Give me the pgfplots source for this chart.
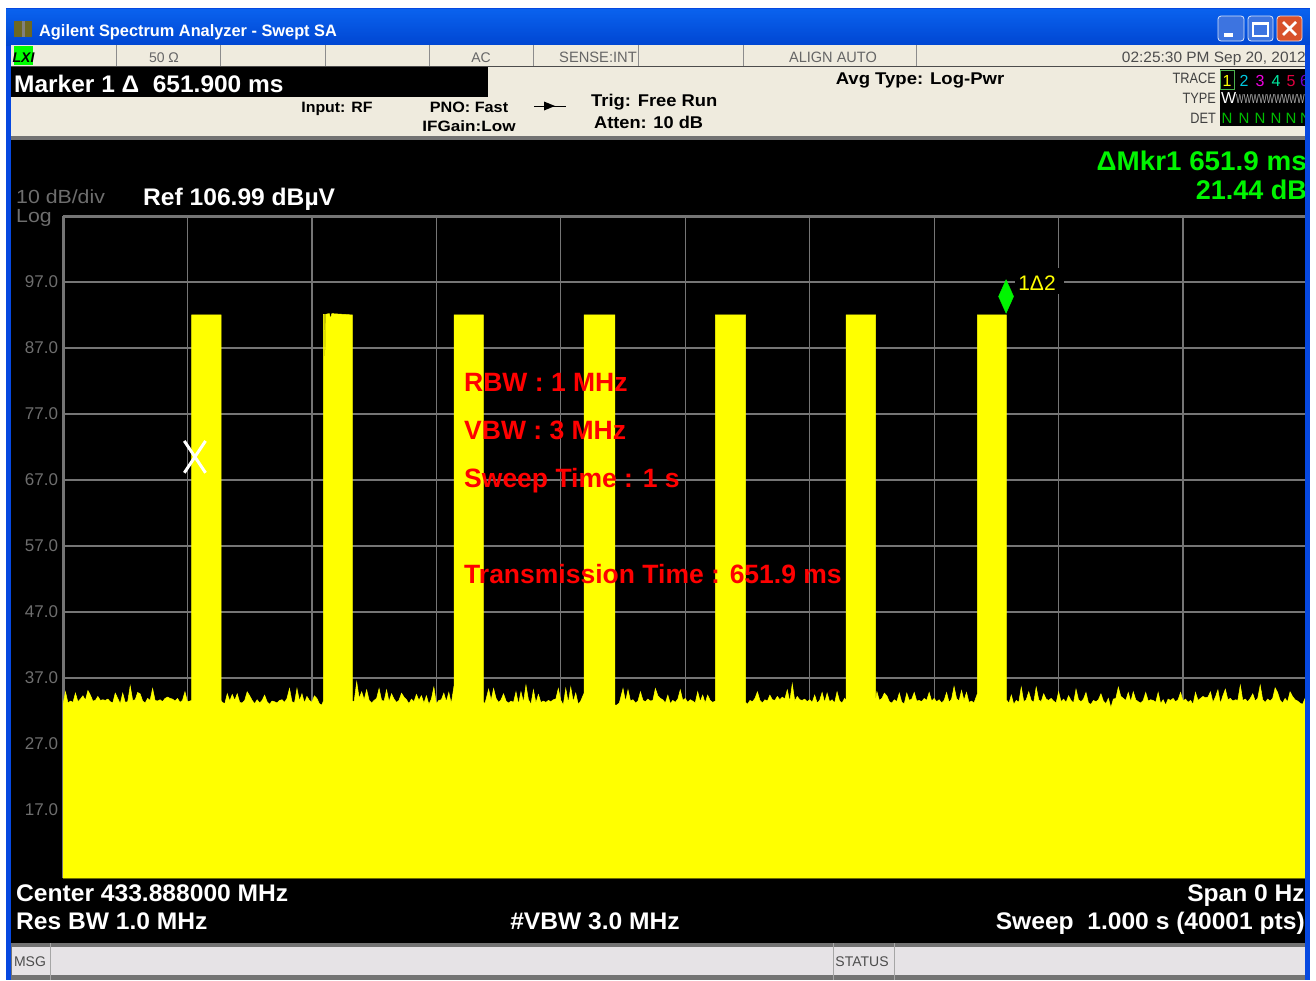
\documentclass[border=0pt]{standalone}
\usepackage{fontspec}
\usepackage{graphicx}
\setmainfont{Liberation Sans}
\usepackage{pgfplots}
\pgfplotsset{compat=1.18}
\definecolor{xpblue}{HTML}{0648E0}
\definecolor{xpblueT}{HTML}{0A62EE}
\definecolor{xpblueB}{HTML}{0046D2}
\definecolor{cream}{HTML}{EFEBDE}
\definecolor{msgbar}{HTML}{E6E3E6}
\definecolor{tickgray}{HTML}{6E6E6E}
\definecolor{gridgray}{HTML}{757575}
\definecolor{mk}{HTML}{00F500}
\definecolor{yel}{RGB}{255,255,0}
\definecolor{rd}{RGB}{255,0,0}
\definecolor{cy}{HTML}{00C8E0}
\definecolor{mg}{HTML}{F000E0}
\definecolor{gt}{HTML}{00E8A0}
\definecolor{cr}{HTML}{E00040}
\definecolor{vi}{HTML}{7000D0}
\definecolor{btn}{HTML}{3D74E0}
\definecolor{cls}{HTML}{D8512B}
\newcommand{\Tx}[6]{\node[anchor=#1,inner sep=0pt,text=#5] at (#2,#3) {\fontsize{#4}{#4}\selectfont #6};}
\begin{document}
\begin{tikzpicture}[x=1pt,y=-1pt]
\useasboundingbox (0,0) rectangle (1316,980);
% page
\fill[white] (0,0) rectangle (1316,980);
% window
\fill[xpblue] (6,8) rectangle (1310,980);
\shade[top color=xpblueT,bottom color=xpblueB] (6,9) rectangle (1310,45);
\fill[black] (11,140) rectangle (1305,943);
\fill[cream] (11,45) rectangle (1305,140);
\fill[black!55] (11,136) rectangle (1305,140);
\fill[black!70] (11,65.5) rectangle (1305,66.5);
% plot
\begin{axis}[
  at={(63pt,-878pt)}, anchor=south west,
  scale only axis, width=1244.5pt, height=662pt,
  xmin=0, xmax=1000, ymin=6.69, ymax=106.99,
  axis x line*=top, axis y line*=left,
  axis line style={draw=gridgray,line width=3pt,-},
  xtick={0,100,...,1000}, ytick={17,27,...,97},
  xticklabel=\empty,
  grid=major, grid style={draw=gridgray,line width=1.2pt},
  major tick style={draw=none},
  yticklabel style={font=\fontsize{17}{17}\selectfont,text=tickgray,xshift=-1.5pt},
  /pgf/number format/.cd, fixed, fixed zerofill, precision=1, assume math mode=true,
]
\addplot[fill=yel,draw=yel,line width=0.5pt] coordinates {
(-1,33.0)(0,33.0)(2,34.9)(4,33.2)(6,33.5)(8,33.3)(10,34.7)(12,33.4)(14,33.8)(16,34.3)(18,33.6)(20,35.1)(22,34.4)(24,33.5)(26,33.6)(28,34.2)(30,33.6)(32,33.7)(34,33.6)(36,33.8)(38,33.4)(40,33.2)(42,34.7)(44,33.9)(46,33.1)(48,34.7)(50,33.3)(52,33.4)(54,35.8)(56,33.6)(58,33.7)(60,34.8)(62,34.6)(64,33.5)(66,33.2)(68,33.9)(70,33.6)(72,35.4)(74,33.6)(76,33.5)(78,33.7)(80,33.4)(82,33.9)(84,34.1)(86,33.9)(88,33.8)(90,33.5)(92,33.9)(94,33.3)(96,33.6)(98,34.9)(100,33.4)(102,33.5)
(103.4,33.6)(103.4,92)(127,92)(127,33.6)
(128,33.3)(130,33.1)(132,34.6)(134,33.5)(136,34.5)(138,33.6)(140,34.6)(142,33.3)(144,33.2)(146,33.6)(148,34.9)(150,34.3)(152,33.6)(154,33.1)(156,33.7)(158,33.2)(160,33.6)(162,34.4)(164,33.4)(166,33.0)(168,33.5)(170,33.4)(172,33.2)(174,33.6)(176,33.7)(178,33.3)(180,33.9)(182,35.4)(184,33.4)(186,33.2)(188,35.4)(190,33.5)(192,34.6)(194,33.2)(196,34.2)(198,33.6)(200,33.3)(202,34.3)(204,33.9)(206,33.1)(208,32.9)
(209.2,33.5)(209.2,92.1)(210,92.1)(210.5,82.3)(211,92.1)(214,92.2)(215,91.4)(216,92.2)(232.5,92)(232.5,33.4)
(234,33.5)(236,36.4)(238,33.9)(240,34.9)(242,33.7)(244,35.2)(246,33.6)(248,33.2)(250,33.6)(252,33.9)(254,35.4)(256,33.6)(258,33.5)(260,35.2)(262,33.4)(264,34.6)(266,33.8)(268,33.3)(270,33.6)(272,34.7)(274,34.1)(276,33.7)(278,33.1)(280,33.8)(282,33.4)(284,34.5)(286,33.6)(288,34.3)(290,33.2)(292,34.3)(294,33.0)(296,33.8)(298,35.6)(300,33.1)(302,33.6)(304,33.7)(306,34.7)(308,33.4)(310,34.8)(312,33.1)
(314.2,35.8)(314.2,92)(337.7,92)(337.7,33.4)
(339,33.1)(340,33.8)(342,35.3)(344,33.6)(346,35.4)(348,33.9)(350,33.3)(352,33.7)(354,34.6)(356,33.5)(358,33.2)(360,33.5)(362,33.3)(364,34.9)(366,33.0)(368,34.9)(370,33.3)(372,35.9)(374,33.7)(376,33.0)(378,35.2)(380,33.2)(382,34.5)(384,33.3)(386,33.5)(388,33.3)(390,33.6)(392,33.4)(394,33.7)(396,33.8)(398,35.4)(400,33.6)(402,32.9)(404,35.4)(406,33.2)(408,35.6)(410,33.4)(412,34.7)(414,33.0)(416,33.5)
(418.7,34.7)(418.7,92)(443.5,92)(443.5,32.9)
(445,32.9)(447,33.2)(450,35.4)(452,33.4)(454,35.2)(456,33.5)(458,33.7)(460,33.2)(462,33.5)(464,34.9)(466,33.6)(468,33.4)(470,33.8)(472,33.5)(474,33.6)(476,35.4)(478,34.3)(480,33.9)(482,33.7)(484,33.2)(486,34.4)(488,33.1)(490,33.6)(492,33.3)(494,33.8)(496,35.2)(498,33.6)(500,33.9)(502,33.3)(504,33.7)(506,33.5)(508,33.2)(510,34.9)(512,33.4)(514,34.4)(516,33.2)(518,34.4)(520,33.6)(522,33.3)
(524.2,33.5)(524.2,92)(548.6,92)(548.6,33.3)
(550,33.0)(552,33.6)(554,33.4)(556,33.9)(558,34.9)(560,33.6)(562,33.2)(564,33.7)(566,33.5)(568,34.4)(570,33.7)(572,33.6)(574,34.2)(576,33.7)(578,34.1)(580,33.8)(582,35.2)(584,33.4)(586,36.1)(588,33.5)(590,34.2)(592,33.7)(594,33.6)(596,33.8)(598,33.4)(600,33.7)(602,33.3)(604,34.4)(606,33.2)(608,33.6)(610,34.8)(612,33.3)(614,34.7)(616,33.4)(618,33.7)(620,33.2)(622,34.9)(624,33.5)(626,33.2)(628,33.9)
(629.2,33.6)(629.2,92)(653,92)(653,33.6)
(654,34.9)(656,33.6)(658,33.9)(660,34.7)(662,34.3)(664,33.4)(666,33.2)(668,33.7)(670,33.4)(672,34.7)(674,33.3)(676,33.1)(678,34.7)(680,33.6)(682,33.8)(684,34.8)(686,33.5)(688,33.6)(690,33.4)(692,33.9)(694,33.6)(696,34.8)(698,33.5)(700,33.9)(702,33.4)(704,33.7)(706,33.2)(708,33.6)(710,34.8)(712,33.3)(714,33.8)(716,35.7)(718,33.9)(720,33.5)(722,35.1)(724,33.6)(726,34.8)(728,33.3)(730,33.5)(732,33.2)
(734.7,34.6)(734.7,92)(758,92)(758,33.6)
(759,33.5)(760,33.1)(762,34.4)(764,33.0)(766,33.6)(768,33.3)(770,35.6)(772,33.4)(774,33.7)(776,34.9)(778,33.6)(780,33.3)(782,35.6)(784,33.7)(786,33.4)(788,34.6)(790,33.8)(792,33.6)(794,33.9)(796,33.5)(798,33.2)(800,34.9)(802,33.4)(804,33.8)(806,33.3)(808,34.3)(810,33.6)(812,33.2)(814,35.3)(816,33.7)(818,33.4)(820,33.8)(822,34.8)(824,33.2)(826,33.0)(828,33.6)(830,33.4)(832,33.7)(834,34.6)(836,33.5)(838,33.1)(840,33.9)(842,32.5)(844,33.8)(846,33.9)(848,35.6)(850,34.2)(852,33.9)(854,33.6)(856,34.8)(858,33.4)(860,34.9)(862,33.7)(864,33.4)(866,33.2)(868,33.6)(870,34.8)(872,33.5)(874,33.7)(876,33.6)(878,33.3)(880,34.8)(882,33.1)(884,33.7)(886,32.9)(888,33.8)(890,33.6)(892,33.9)(894,33.4)(896,33.7)(898,34.8)(900,33.5)(902,33.8)(904,33.3)(906,33.6)(908,33.0)(910,34.8)(912,33.6)(914,33.9)(916,34.2)(918,34.0)(920,34.1)(922,34.9)(924,33.3)(926,34.1)(928,35.2)(930,33.1)(932,34.3)(934,35.3)(936,33.7)(938,33.9)(940,33.5)(942,33.7)(944,33.6)(946,35.9)(948,33.6)(950,33.8)(952,33.4)(954,33.9)(956,34.6)(958,33.5)(960,33.9)(962,35.9)(964,33.7)(966,33.3)(968,33.8)(970,33.5)(972,33.9)(974,35.5)(976,34.8)(978,33.6)(980,33.2)(982,33.9)(984,33.4)(986,34.9)(988,34.2)(990,33.7)(992,33.5)(994,33.2)(996,33.0)(998,33.9)(1000,33.5)(1001,33.5)
} \closedcycle;
% marker 1 reference point and delta point
\addplot[only marks,mark=x,mark size=15pt,mark options={draw=white,line width=3pt,yscale=1.5}] coordinates {(106,70.5)};
\addplot[only marks,mark=diamond*,mark size=8pt,mark options={draw=mk,fill=mk,xscale=1.25,yscale=2.1}] coordinates {(757.8,94.8)};
\end{axis}
% label of marker
\fill[black] (1015,268) rectangle (1064,294);
\Tx{base}{1037}{290}{21}{yel}{1Δ2}
% red notes
\Tx{base west}{464}{391}{26.5}{rd}{\bfseries RBW : 1 MHz}
\Tx{base west}{464}{439}{26.5}{rd}{\bfseries VBW : 3 MHz}
\Tx{base west}{464}{487}{26.5}{rd}{\bfseries Sweep Time : 1 s}
\Tx{base west}{464}{583}{26.5}{rd}{\bfseries Transmission Time : 651.9 ms}
% title bar
\fill[black!30!olive] (14,21) rectangle (32,37);
\fill[black!50] (22,21) rectangle (25,37);
\Tx{base west}{39}{36}{16.5}{white}{\bfseries\scalebox{.99}[1]{Agilent Spectrum Analyzer - Swept SA}}
\fill[btn,rounded corners=3pt,draw=white!80!btn,line width=.8pt] (1218,16) rectangle (1244,41);
\fill[white] (1224,33) rectangle (1233,37);
\fill[btn,rounded corners=3pt,draw=white!80!btn,line width=.8pt] (1248,16) rectangle (1273,41);
\draw[white,line width=1.2pt] (1253,23) rectangle (1268,36);\fill[white] (1253,22) rectangle (1268,25);
\fill[cls,rounded corners=3pt,draw=white!80!cls,line width=.8pt] (1277,16) rectangle (1302,41);
\draw[white,line width=2.6pt] (1283,22)--(1296,35) (1296,22)--(1283,35);
% status row
\fill[green] (14,46) rectangle (33,65);
\Tx{base}{23.5}{62}{14}{black}{\bfseries\itshape LXI}
\foreach \s in {116,220.5,325,429,533,638,743,916} \draw[black!45,line width=.9pt] (\s,45)--(\s,66);
\Tx{base}{164}{62}{14}{black!60}{50 Ω}
\Tx{base}{481}{62}{14}{black!60}{AC}
\Tx{base}{598}{62}{15}{black!60}{\scalebox{.98}[1]{SENSE:INT}}
\Tx{base}{833}{62}{15}{black!60}{\scalebox{.97}[1]{ALIGN AUTO}}
\Tx{base east}{1306}{62}{15}{black!70}{\scalebox{1.03}[1]{02:25:30 PM Sep 20, 2012}}
% marker line
\fill[black] (11,66.5) rectangle (488,97);
\Tx{base west}{14}{92}{24}{white}{\bfseries\scalebox{1.02}[1]{Marker 1 Δ\ \ 651.900 ms}}
\Tx{base}{337}{112}{15}{black}{\bfseries\scalebox{1.06}[1]{Input: RF}}
\Tx{base}{469}{112}{15}{black}{\bfseries\scalebox{1.08}[1]{PNO: Fast}}
\Tx{base}{469}{131}{15}{black}{\bfseries\scalebox{1.14}[1]{IFGain:Low}}
\draw[black,line width=.9pt] (534,106)--(566,106);
\fill[black] (544,101.5)--(555,106)--(544,110.5)--cycle;
\Tx{base west}{591}{106}{17}{black}{\bfseries\scalebox{1.08}[1]{Trig: Free Run}}
\Tx{base west}{594}{128}{17}{black}{\bfseries\scalebox{1.07}[1]{Atten: 10 dB}}
\Tx{base}{920}{84}{17}{black}{\bfseries\scalebox{1.09}[1]{Avg Type: Log-Pwr}}
% trace box
\Tx{base east}{1216}{83}{15}{black!75}{\scalebox{.85}[1]{TRACE}}
\Tx{base east}{1216}{103}{15}{black!75}{\scalebox{.85}[1]{TYPE}}
\Tx{base east}{1216}{123}{15}{black!75}{\scalebox{.85}[1]{DET}}
\fill[black] (1220,69) rectangle (1305,126);
\draw[green!40!gray,line width=1pt] (1220,70) rectangle (1234,89);
\Tx{base}{1227}{86}{16}{yel}{1}
\Tx{base}{1244}{86}{16}{cy}{2}
\Tx{base}{1260}{86}{16}{mg}{3}
\Tx{base}{1276}{86}{16}{gt}{4}
\Tx{base}{1291}{86}{16}{cr}{5}
\Tx{base west}{1300}{86}{16}{vi}{6}
\Tx{base west}{1221}{103}{16}{white}{W}
\Tx{base west}{1236}{103}{13}{black!30}{\scalebox{.62}[1]{WWWWWWWWW}}
\foreach \px in {1227,1244,1260,1276,1291} {\Tx{base}{\px}{123}{15}{green!75!black}{N}}
\Tx{base west}{1300}{123}{15}{green!75!black}{N}
% trace header
\Tx{base east}{1307}{170}{27}{mk}{\bfseries\scalebox{1.03}[1]{ΔMkr1 651.9 ms}}
\Tx{base east}{1307}{199}{27}{mk}{\bfseries 21.44 dB}
\Tx{base west}{16}{203}{19}{tickgray}{\scalebox{1.12}[1]{10 dB/div}}
\Tx{base west}{16}{222}{19}{tickgray}{\scalebox{1.12}[1]{Log}}
\Tx{base west}{143}{205}{24}{white}{\bfseries\scalebox{1.025}[1]{Ref 106.99 dB\textmu V}}
% footer
\Tx{base west}{16}{901}{24}{white}{\bfseries\scalebox{1.025}[1]{Center 433.888000 MHz}}
\Tx{base west}{16}{929}{24}{white}{\bfseries\scalebox{1.025}[1]{Res BW 1.0 MHz}}
\Tx{base}{595}{929}{24}{white}{\bfseries\scalebox{1.025}[1]{\#VBW 3.0 MHz}}
\Tx{base east}{1305}{901}{24}{white}{\bfseries\scalebox{1.025}[1]{Span 0 Hz}}
\Tx{base east}{1305}{929}{24}{white}{\bfseries\scalebox{1.025}[1]{Sweep\ \ 1.000 s (40001 pts)}}
% message bar
\fill[black!55] (11,943) rectangle (1305,980);
\fill[msgbar] (12,947) rectangle (1305,975);
\draw[black!35,line width=1pt] (50,943)--(50,980) (833,943)--(833,980) (894,943)--(894,980);
\Tx{base}{30}{966}{14}{black!70}{MSG}
\Tx{base}{862}{966}{14}{black!70}{STATUS}
% right border over everything, and the white margin beyond it
\fill[xpblue] (1305,45) rectangle (1310,980);
\fill[white] (1310,0) rectangle (1316,980);
\end{tikzpicture}
\end{document}
